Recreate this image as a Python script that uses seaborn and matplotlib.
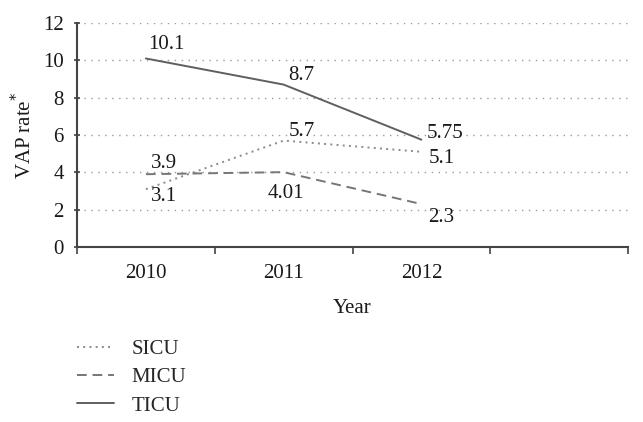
import matplotlib
matplotlib.use("Agg")
import matplotlib.pyplot as plt
import seaborn as sns
import pandas as pd
from matplotlib.ticker import FixedLocator, MultipleLocator

years = ["2010", "2011", "2012"]
sicu = [3.1, 5.7, 5.1]
micu = [3.9, 4.01, 2.3]
ticu = [10.1, 8.7, 5.75]
sicu_labels = ["3.1", "5.7", "5.1"]
micu_labels = ["3.9", "4.01", "2.3"]
ticu_labels = ["10.1", "8.7", "5.75"]
units = ["SICU", "MICU", "TICU"]

df = pd.DataFrame({
    "Year": years * 3,
    "rate": sicu + micu + ticu,
    "unit": ["SICU"] * 3 + ["MICU"] * 3 + ["TICU"] * 3,
})

sns.set_style("white")
plt.rcParams["font.family"] = ["Liberation Serif", "DejaVu Serif"]

FS = 15
fig = plt.figure(figsize=(6.43, 4.22), dpi=100)
ax = fig.add_axes([0.1198, 0.4147, 0.8569, 0.5308])

colors = {"SICU": "#8a8a8a", "MICU": "#767676", "TICU": "#5f5f5f"}
styles = {"SICU": (0, (1, 2.2)), "MICU": (0, (5, 3)), "TICU": "-"}
for u in units:
    sub = df[df["unit"] == u]
    sns.lineplot(data=sub, x="Year", y="rate", ax=ax, color=colors[u],
                 linestyle=styles[u], linewidth=1.4, label=u, sort=False)

# annotations (offset in pixels)
offs = {
    "SICU": [(5, -7, "left"), (5, 9, "left"), (7, -7, "left")],
    "MICU": [(5, 11, "left"), (2, -21, "center"), (7, -13, "left")],
    "TICU": [(2, 14, "left"), (5, 9, "left"), (5, 6, "left")],
}
labs = {"SICU": sicu_labels, "MICU": micu_labels, "TICU": ticu_labels}
vals = {"SICU": sicu, "MICU": micu, "TICU": ticu}
for u in units:
    for i, (v, t) in enumerate(zip(vals[u], labs[u])):
        dx, dy, ha = offs[u][i]
        ax.annotate(t, (i, v), xytext=(dx, dy), textcoords="offset pixels",
                    ha=ha, va="center", fontsize=FS, color="#1a1a1a")

ax.set_xlim(-0.5, 3.5)
ax.set_ylim(0, 12)
ax.yaxis.set_major_locator(MultipleLocator(2))
ax.xaxis.set_major_locator(FixedLocator([0, 1, 2]))
ax.set_xticklabels(years)
ax.xaxis.set_minor_locator(FixedLocator([-0.5, 0.5, 1.5, 2.5, 3.5]))
ax.tick_params(axis="x", which="major", length=0, labelsize=FS, pad=12, colors="#1a1a1a")
ax.tick_params(axis="x", which="minor", length=5, width=1.2, color="#444444", direction="out", bottom=True)
ax.tick_params(axis="y", which="major", length=5, width=1.2, color="#444444", direction="inout",
               labelsize=FS, left=True, pad=7, labelcolor="#1a1a1a")

ax.grid(axis="y", color="#9a9a9a", linestyle=(0, (1, 4)), linewidth=1.0)
ax.set_axisbelow(True)
for s in ["top", "right"]:
    ax.spines[s].set_visible(False)
for s in ["left", "bottom"]:
    ax.spines[s].set_color("#444444")
    ax.spines[s].set_linewidth(1.5)

ax.set_xlabel("Year", fontsize=FS, color="#1a1a1a", labelpad=12)
ax.set_ylabel("VAP rate$^{*}$", fontsize=FS, color="#1a1a1a", labelpad=5)

ax.legend(loc="upper left", bbox_to_anchor=(0.12, 0.196), bbox_transform=fig.transFigure,
          frameon=False, fontsize=FS, handlelength=1.75, handletextpad=0.85,
          labelspacing=0.42, borderaxespad=0, borderpad=0)

fig.savefig("out.png", dpi=100)
